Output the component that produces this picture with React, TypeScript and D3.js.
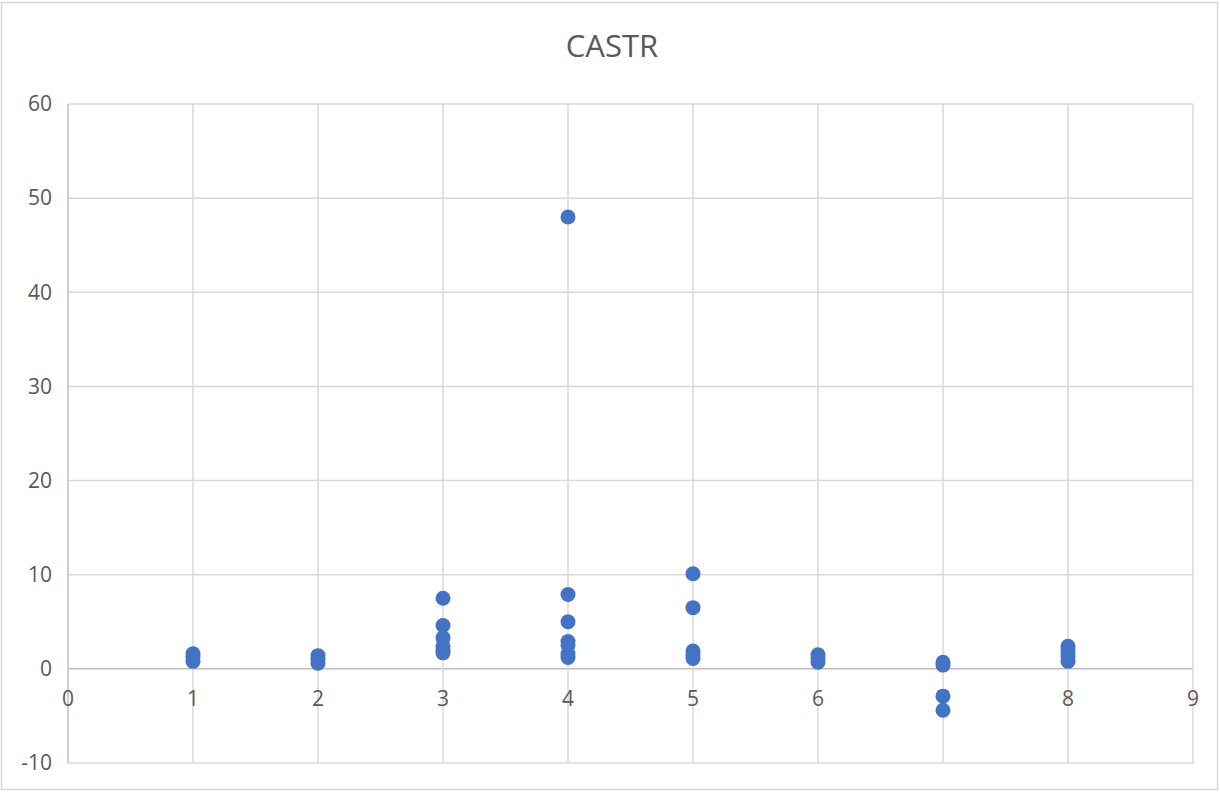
import React from "react";
import * as d3 from "d3";

const title = "CASTR";
const groups = [1, 2, 3, 4, 5, 6, 7, 8];
const values: number[][] = [
  [0.8, 1.2, 1.6],
  [0.6, 1.0, 1.4],
  [7.5, 4.6, 3.3, 2.4, 2.0, 1.7],
  [48, 7.9, 5.0, 2.9, 2.5, 1.6, 1.2],
  [10.1, 6.5, 1.9, 1.5, 1.1],
  [1.5, 1.1, 0.7],
  [0.7, 0.4, -2.9, -4.4],
  [2.4, 2.0, 1.6, 1.2, 0.8],
];
const xTicks = [0, 1, 2, 3, 4, 5, 6, 7, 8, 9];
const yTicks = [-10, 0, 10, 20, 30, 40, 50, 60];

const W = 1220;
const H = 792;

export default function App() {
  const x = d3.scaleLinear().domain([0, 9]).range([68, 1193]);
  const y = d3.scaleLinear().domain([-10, 60]).range([763, 104]);
  const points = groups.flatMap((g, i) => values[i].map((v) => ({ g, v })));
  const font = "'Open Sans', 'Noto Sans', sans-serif";
  return (
    <svg
      width={W}
      height={H}
      style={{ position: "absolute", left: 0, top: 0, background: "#fff" }}
    >
      <rect x={1.5} y={2.5} width={W - 4} height={H - 5} fill="#fff" stroke="#d9d9d9" strokeWidth={1.5} />
      <text x={612} y={57} textAnchor="middle" fontFamily={font} fontSize={31} fill="#595959">
        {title}
      </text>
      {yTicks.map((t) => (
        <line key={"h" + t} x1={x(0)} x2={x(9)} y1={y(t)} y2={y(t)} stroke={t === 0 ? "#bfbfbf" : "#d9d9d9"} strokeWidth={1.5} />
      ))}
      {xTicks.map((t) => (
        <line key={"v" + t} x1={x(t)} x2={x(t)} y1={y(-10)} y2={y(60)} stroke={t === 0 ? "#bfbfbf" : "#d9d9d9"} strokeWidth={1.5} />
      ))}
      {yTicks.map((t) => (
        <text key={"yl" + t} x={52} y={y(t)} dy="0.35em" textAnchor="end" fontFamily={font} fontSize={21} fill="#595959">
          {t}
        </text>
      ))}
      {xTicks.map((t) => (
        <text key={"xl" + t} x={x(t)} y={y(0) + 37} textAnchor="middle" fontFamily={font} fontSize={21} fill="#595959">
          {t}
        </text>
      ))}
      {points.map((p, i) => (
        <circle key={i} cx={x(p.g)} cy={y(p.v)} r={7.5} fill="#4472C4" />
      ))}
    </svg>
  );
}
